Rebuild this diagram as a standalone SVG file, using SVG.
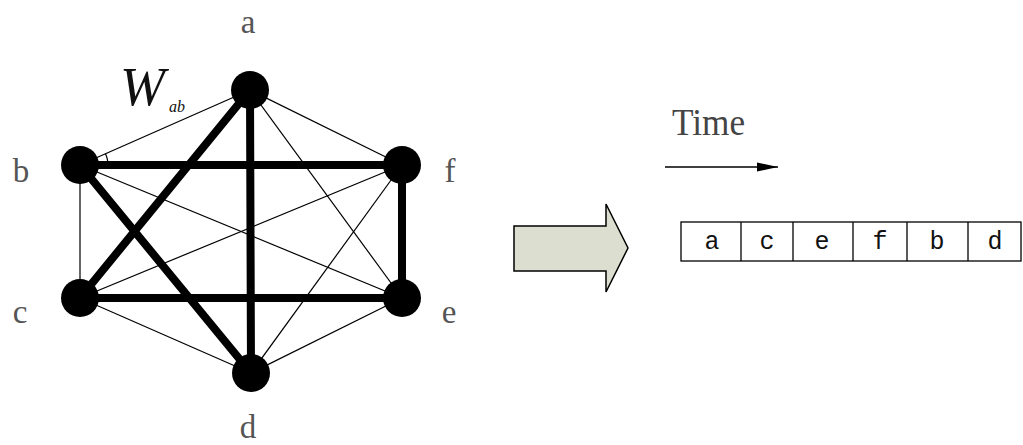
<svg xmlns="http://www.w3.org/2000/svg" width="1023" height="445" viewBox="0 0 1023 445">
<style>
.thin{stroke:#000;stroke-width:1.2;fill:none}
.thick{stroke:#000;stroke-width:8;fill:none;stroke-linecap:round}
.node{fill:#000}
.lbl{font-family:"Liberation Serif",serif;font-size:33px;fill:#555;text-anchor:middle}
.cell{font-family:"Liberation Mono",monospace;font-size:25px;fill:#111;text-anchor:middle}
.bx{stroke:#000;stroke-width:1.3}
</style>
<defs>
<marker id="ah" markerWidth="22" markerHeight="12" refX="21" refY="6" orient="auto" markerUnits="userSpaceOnUse">
<path d="M0,1.5 L21,6 L0,10.5 Z" fill="#000"/>
</marker>
</defs>
<rect width="1023" height="445" fill="#fff"/>
<g id="connectors">
<line class="thin" x1="250" y1="90" x2="80" y2="165"/>
<line class="thin" x1="250" y1="90" x2="402" y2="165"/>
<line class="thin" x1="250" y1="90" x2="402" y2="298"/>
<line class="thin" x1="80" y1="165" x2="80" y2="298"/>
<line class="thin" x1="80" y1="165" x2="402" y2="298"/>
<line class="thin" x1="80" y1="298" x2="402" y2="165"/>
<line class="thin" x1="80" y1="298" x2="251" y2="373"/>
<line class="thin" x1="251" y1="373" x2="402" y2="165"/>
<line class="thin" x1="251" y1="373" x2="402" y2="298"/>
<line class="thick" x1="250" y1="90" x2="80" y2="298"/>
<line class="thick" x1="250" y1="90" x2="251" y2="373"/>
<line class="thick" x1="80" y1="165" x2="402" y2="165"/>
<line class="thick" x1="80" y1="165" x2="251" y2="373"/>
<line class="thick" x1="80" y1="298" x2="402" y2="298"/>
<line class="thick" x1="402" y1="165" x2="402" y2="298"/>
<path class="thin" d="M105.5,153.8 A28,28 0 0 1 108,163"/>
</g>
<g id="node-a"><circle class="node" cx="250" cy="90" r="19"/><text class="lbl" x="248" y="33">a</text></g>
<g id="node-b"><circle class="node" cx="80" cy="165" r="19"/><text class="lbl" x="21" y="182">b</text></g>
<g id="node-f"><circle class="node" cx="402" cy="165" r="19"/><text class="lbl" x="450" y="182">f</text></g>
<g id="node-c"><circle class="node" cx="80" cy="298" r="19"/><text class="lbl" x="20" y="323">c</text></g>
<g id="node-e"><circle class="node" cx="402" cy="298" r="19"/><text class="lbl" x="449" y="323">e</text></g>
<g id="node-d"><circle class="node" cx="251" cy="373" r="19"/><text class="lbl" x="248" y="438">d</text></g>
<g id="weight-label">
<text x="120" y="105" font-family="Liberation Serif,serif" font-style="italic" font-size="54" fill="#111">W</text>
<text x="169" y="112" font-family="Liberation Serif,serif" font-style="italic" font-size="16" fill="#111">ab</text>
</g>
<g id="big-arrow">
<polygon points="514,226 606,226 606,204 628,248 606,292 606,271 514,271" fill="#dcdfcf" stroke="#000" stroke-width="1.5"/>
</g>
<g id="time">
<text x="672" y="135" font-family="Liberation Serif,serif" font-size="38" fill="#444" textLength="73" lengthAdjust="spacingAndGlyphs">Time</text>
<line x1="665" y1="167" x2="778" y2="167" stroke="#000" stroke-width="1.3" marker-end="url(#ah)"/>
</g>
<g id="sequence">
<rect class="bx" x="681" y="222" width="340" height="39" fill="none"/>
<line class="bx" x1="741" y1="222" x2="741" y2="261"/>
<line class="bx" x1="793" y1="222" x2="793" y2="261"/>
<line class="bx" x1="853" y1="222" x2="853" y2="261"/>
<line class="bx" x1="907" y1="222" x2="907" y2="261"/>
<line class="bx" x1="968" y1="222" x2="968" y2="261"/>
<text class="cell" x="712" y="249">a</text>
<text class="cell" x="767" y="249">c</text>
<text class="cell" x="822" y="249">e</text>
<text class="cell" x="880" y="249">f</text>
<text class="cell" x="937" y="249">b</text>
<text class="cell" x="995" y="249">d</text>
</g>
</svg>
